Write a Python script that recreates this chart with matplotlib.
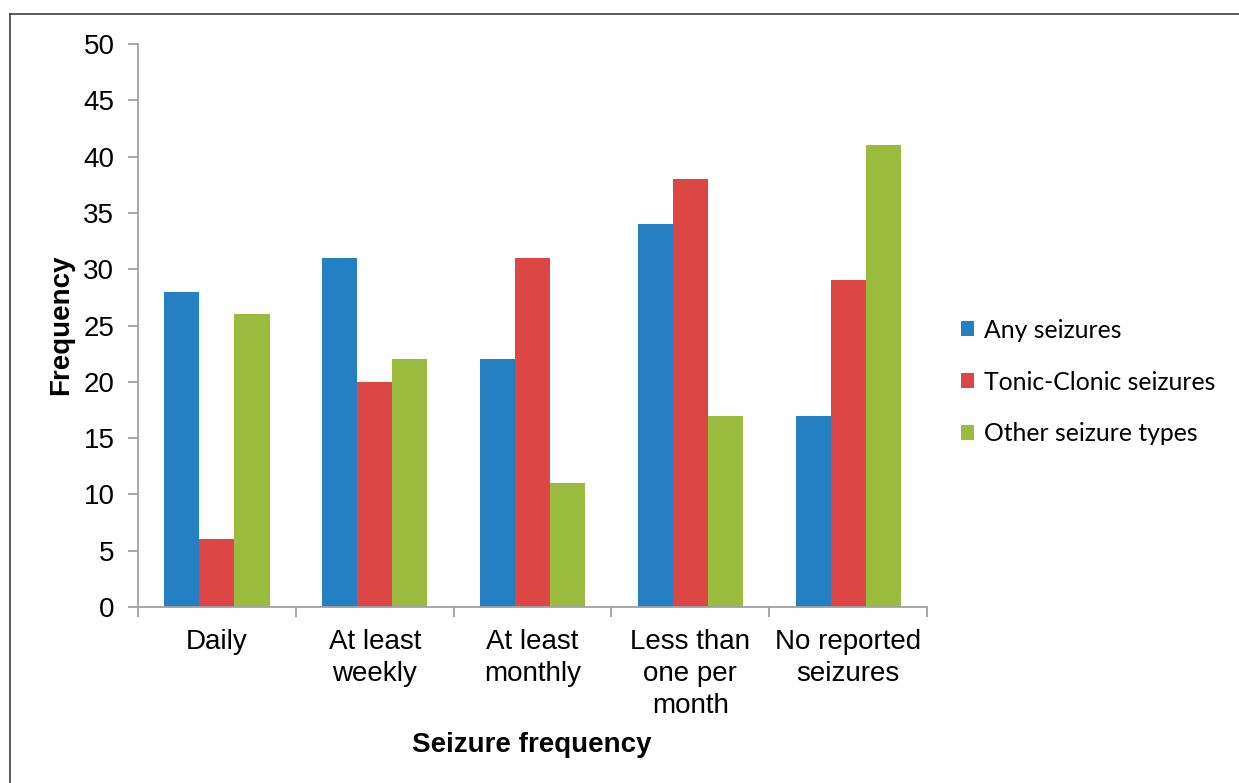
import matplotlib
matplotlib.use("Agg")
import matplotlib.pyplot as plt
from matplotlib.lines import Line2D
import numpy as np

categories = ["Daily", "At least\nweekly", "At least\nmonthly", "Less than\none per\nmonth", "No reported\nseizures"]
series_names = ["Any seizures", "Tonic-Clonic seizures", "Other seizure types"]
any_seizures = [28, 31, 22, 34, 17]
tonic_clonic = [6, 20, 31, 38, 29]
other_types = [26, 22, 11, 17, 41]
colors = ["#2580C3", "#DC4645", "#9BBB3E"]
yticks = [0, 5, 10, 15, 20, 25, 30, 35, 40, 45, 50]

fig = plt.figure(figsize=(12.39, 7.83), dpi=100)
ax = fig.add_axes([138/1239, 1-607/783, (927-138)/1239, (607-44)/783])

# outer frame (top and left visible)
fig.add_artist(Line2D([10/1239, 10/1239], [0, 1-14/783], transform=fig.transFigure, color="#404040", lw=1.2))
fig.add_artist(Line2D([10/1239, 1.0], [1-14/783, 1-14/783], transform=fig.transFigure, color="#404040", lw=1.2))

x = np.arange(len(categories))
w = 1/4.5
data = [any_seizures, tonic_clonic, other_types]
for i, (vals, c, name) in enumerate(zip(data, colors, series_names)):
    ax.bar(x + (i-1)*w, vals, width=w, color=c, label=name, linewidth=0)

ax.set_xlim(-0.5, len(categories)-0.5)
ax.set_ylim(0, 50)
ax.set_yticks(yticks)
ax.set_yticklabels([str(t) for t in yticks], fontsize=20, family="Liberation Sans")
ax.set_xticks(x)
ax.set_xticklabels(categories, fontsize=20, family="Liberation Sans", linespacing=1.3)
ax.set_xticks(np.arange(len(categories)+1)-0.5, minor=True)
ax.tick_params(axis="x", which="major", length=0, pad=16)
ax.tick_params(axis="x", which="minor", length=7, color="#A0A0A0", width=1.3, direction="out")
ax.tick_params(axis="y", length=7, color="#A0A0A0", width=1.3, direction="out", pad=10)
for s in ["top", "right"]:
    ax.spines[s].set_visible(False)
for s in ["left", "bottom"]:
    ax.spines[s].set_color("#A0A0A0")
    ax.spines[s].set_linewidth(1.3)

ax.set_xlabel("Seizure frequency", fontsize=20, fontweight="bold", family="Liberation Sans")
ax.set_ylabel("Frequency", fontsize=20, fontweight="bold", family="Liberation Sans")
ax.xaxis.set_label_coords((532-138)/(927-138), -(732-607)/(607-44))
ax.yaxis.set_label_coords(-(138-74)/(927-138), (607-325)/(607-44))

leg = ax.legend(loc="center left", bbox_to_anchor=(951/1239, 1-382/783), bbox_transform=fig.transFigure,
                frameon=False, prop={"family": "Lato", "size": 17.8}, handlelength=0.55, handleheight=0.55,
                handletextpad=0.4, labelspacing=1.17, borderaxespad=0)

fig.savefig("out.png", dpi=100, facecolor="white")
